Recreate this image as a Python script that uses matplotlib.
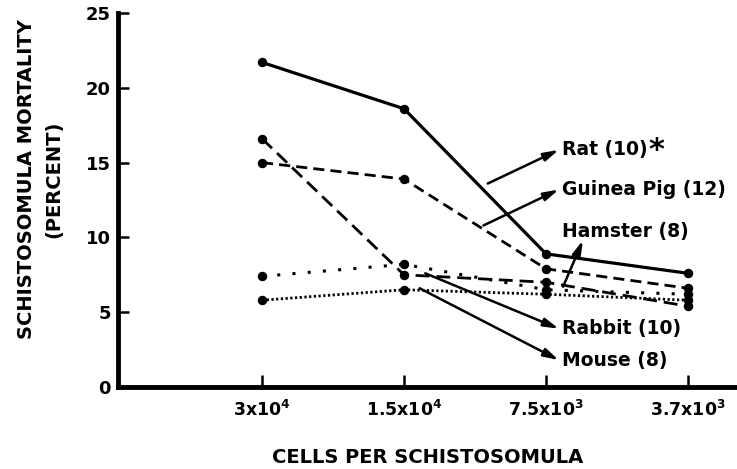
import matplotlib
matplotlib.use("Agg")
import matplotlib.pyplot as plt

plt.rcParams['font.family'] = ['DejaVu Sans']
plt.rcParams['font.weight'] = 'bold'
plt.rcParams['mathtext.default'] = 'regular'

# Data
cells = ["3x10$^4$", "1.5x10$^4$", "7.5x10$^3$", "3.7x10$^3$"]
rat = [21.7, 18.6, 8.9, 7.6]
guinea_pig = [15.0, 13.9, 7.9, 6.6]
hamster = [7.4, 8.2, 6.5, 6.2]
rabbit = [16.6, 7.5, 7.0, 5.4]
mouse = [5.8, 6.5, 6.2, 5.8]
labels = ["Rat (10)", "Guinea Pig (12)", "Hamster (8)", "Rabbit (10)", "Mouse (8)"]
yticks = [0, 5, 10, 15, 20, 25]

fig = plt.figure(figsize=(7.37, 4.69), dpi=100)
ax = fig.add_axes([118/737, 1-387/469, 1-118/737, (387-13)/469])
x = list(range(len(cells)))

mk = dict(marker='o', markersize=5.8, color='black')
ax.plot(x, rat, linestyle='-', lw=2.3, **mk)
ax.plot(x, guinea_pig, linestyle=(0, (4, 2.2)), lw=2.0, **mk)
ax.plot(x, rabbit, linestyle=(0, (5, 2.5)), lw=2.0, **mk)
ax.plot(x, hamster, linestyle=(0, (1, 4)), lw=2.2, **mk)
ax.plot(x, mouse, linestyle=(0, (0.8, 0.9)), lw=2.0, **mk)

ax.set_xlim(-1.014, 3.345)
ax.set_ylim(0, 25)
ax.set_xticks(x)
ax.set_xticklabels(cells, fontsize=12.5, fontweight='bold')
ax.set_yticks(yticks)
ax.set_yticklabels([str(v) for v in yticks], fontsize=13, fontweight='bold')
ax.tick_params(axis='x', direction='in', length=9, width=1.8, pad=9)
ax.tick_params(axis='y', direction='in', length=8, width=1.8, pad=5)
for s in ['top', 'right']:
    ax.spines[s].set_visible(False)
for s in ['left', 'bottom']:
    ax.spines[s].set_linewidth(3.5)

fig.text(27/737, 1-179/469, "SCHISTOSOMULA MORTALITY", rotation=90, ha='center', va='center',
         fontsize=14, fontweight='bold')
fig.text(54/737, 1-179/469, "(PERCENT)", rotation=90, ha='center', va='center',
         fontsize=14, fontweight='bold')
fig.text(428/737, 1-457/469, "CELLS PER SCHISTOSOMULA", ha='center', va='center',
         fontsize=14, fontweight='bold')

aprops = dict(arrowstyle='-|>,head_length=0.9,head_width=0.25', lw=1.8, color='black',
              shrinkA=0, shrinkB=0)
# (text x, text y, tail x, tail y)
ann = [
    (2.11, 15.85, 1.59, 13.6),
    (2.11, 13.2, 1.56, 10.8),
    (2.11, 10.4, 2.12, 6.7),
    (2.11, 3.9, 1.15, 7.6),
    (2.11, 1.8, 1.11, 6.6),
]
texts = []
for lab, (tx, ty, ax0, ay0) in zip(labels, ann):
    t = ax.text(tx, ty, lab, fontsize=13.5, fontweight='bold', ha='left', va='center')
    texts.append(t)
for i, (tx, ty, ax0, ay0) in enumerate(ann):
    if i == 2:
        head = (2.26, 9.8)
    else:
        head = (tx - 0.02, ty)
    ax.annotate('', xy=head, xytext=(ax0, ay0), arrowprops=aprops)

ax.annotate('*', xy=(1, 1), xycoords=texts[0], xytext=(1, 3), textcoords='offset points',
            ha='left', va='top', fontsize=22, fontweight='bold')

fig.savefig("out.png", dpi=100)
